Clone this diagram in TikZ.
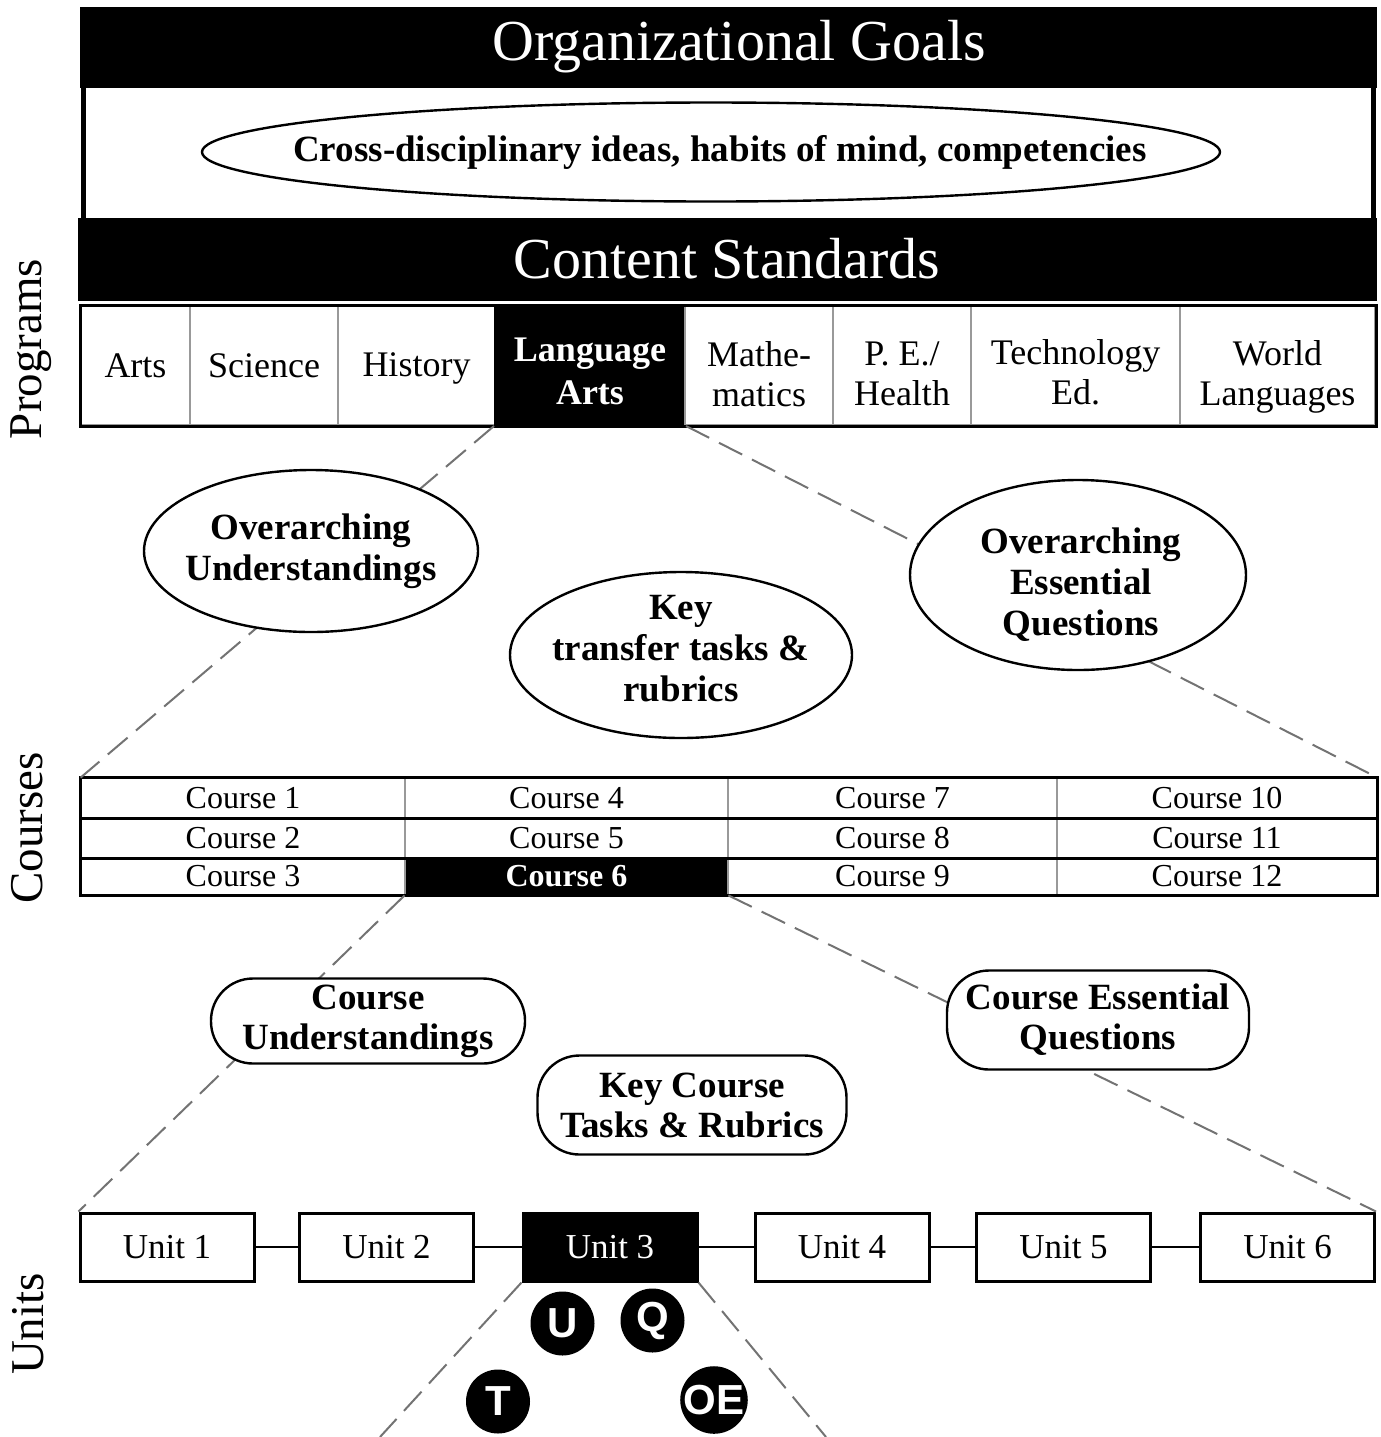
\documentclass[tikz,border=0pt]{standalone}
\usepackage{fontspec}
\setmainfont{Liberation Serif}
\newfontfamily\badgefont{Liberation Sans}
\usetikzlibrary{shapes.geometric}

\tikzset{
  bar/.style={draw, fill=black, text=white, inner sep=0pt, font=\fontsize{29}{34}\selectfont},
  prog/.style={draw=black!40, line width=1pt, inner sep=0pt, minimum height=59.5pt},
  progtext/.style={inner sep=0pt, align=center, font=\fontsize{18}{20}\selectfont},
  progpick/.style={draw=black, fill=black},
  progpicktext/.style={text=white, font=\fontsize{18}{21.5}\selectfont\bfseries},
  course/.style={inner sep=0pt, font=\fontsize{16}{18}\selectfont},
  coursepick/.style={fill=black, text=white, font=\fontsize{16}{18}\selectfont\bfseries},
  unit/.style={draw, line width=1.5pt, inner sep=0pt, minimum width=87pt, minimum height=34pt, font=\fontsize{17.5}{20}\selectfont},
  unitpick/.style={fill=black, text=white},
  thiscell/.style={},
  thistext/.style={},
  idea/.style={ellipse, draw, line width=1.2pt, fill=white, inner sep=0pt},
  ideatext/.style={align=center, inner sep=0pt, font=\fontsize{18.5}{20.5}\selectfont\bfseries},
  card/.style={rectangle, rounded corners=21pt, draw, line width=1.2pt, fill=white, inner sep=0pt, align=center, font=\fontsize{18.5}{20}\selectfont\bfseries},
  zoomline/.style={black!55, line width=1pt, dash pattern=on 13pt off 5.5pt},
  badge/.style={circle, fill=black, text=white, inner sep=0pt, minimum size=32pt, font=\badgefont\bfseries\fontsize{21}{21}\selectfont},
  level/.style={rotate=90, inner sep=0pt, font=\fontsize{23.5}{26}\selectfont}
}

\begin{document}
\begin{tikzpicture}[x=0.5pt, y=-0.5pt]
    \useasboundingbox (0,0) rectangle (1381,1437);

    % goals and standards
    \node[bar, minimum width=648pt, minimum height=40pt] (goals) at (728,47) {\hspace*{11pt}Organizational Goals};
    \draw[line width=2.5pt] (83.5,87) -- (83.5,218);
    \draw[line width=2.5pt] (1373.5,87) -- (1373.5,218);
    \node[bar, minimum width=649pt, minimum height=41pt] (standards) at (727,259) {Content Standards};
    \node[idea, minimum width=509pt, minimum height=49.5pt] (crossidea) at (711,152) {};
    \node[ideatext] (crosstext) at ([xshift=4.5pt]crossidea.center) {Cross-disciplinary ideas, habits of mind, competencies};

    % level labels
    \node[level] (programs) at (31,349) {Programs};
    \node[level] (courses) at (27,828) {Courses};
    \node[level] (units) at (28,1324) {Units};

    % programs
    \foreach \xa/\xb/\cell/\pick/\dy/\txt in {81/190/arts/0/0/Arts, 190/338/science/0/0/Science, 338/495/history/0/-1.5/History,
        495/685/langarts/1/-2.75/{Language\\Arts}, 685/833/math/0/-4.5/{Mathe-\\matics}, 833/971/pe/0/-4.25/{P. E./\\Health},
        971/1180/tech/0/-3.25/{Technology\\Ed.}, 1180/1375/world/0/-5.75/{World\\Languages}}{
        \ifnum\pick=1 \tikzset{thiscell/.style=progpick, thistext/.style=progpicktext}\fi
        \node[prog, thiscell, minimum width={(\xb-\xa)*0.5pt}] (\cell) at ({(\xa+\xb)/2},365.5) {};
        \node[progtext, thistext] (\cell text) at ([yshift=\dy pt]\cell.center) {\txt};
    }
    \draw[line width=1.5pt] (arts.north west) rectangle (world.south east);

    % courses
    \foreach \col/\xa/\xb in {0/81/405, 1/405/728, 2/728/1057, 3/1057/1377}
        \foreach \row/\ya/\yb in {1/778/818, 2/818/858, 3/858/895}{
            \pgfmathtruncatemacro{\num}{3*\col+\row}
            \ifnum\num=6 \tikzset{thiscell/.style=coursepick}\fi
            \node[course, thiscell, minimum width={(\xb-\xa)*0.5pt}, minimum height={(\yb-\ya)*0.5pt}]
                (c\num) at ({(\xa+\xb)/2},{(\ya+\yb)/2}) {Course \num};
        }
    \foreach \a/\b in {1/3, 4/6, 7/9}
        \draw[black!40, line width=1pt] (c\a.north east) -- (c\b.south east);
    \draw[line width=1.3pt] (c1.south west) -- (c10.south east);
    \draw[line width=1.3pt] (c2.south west) -- (c11.south east);
    \draw[line width=1.5pt] (c1.north west) rectangle (c12.south east);

    % units
    \foreach \i/\ux in {1/167, 2/386.5, 3/610, 4/842, 5/1063.5, 6/1287.5}{
        \ifnum\i=3 \tikzset{thiscell/.style=unitpick}\fi
        \node[unit, thiscell] (u\i) at (\ux,1247) {Unit \i};
    }
    \foreach \a/\b in {1/2, 2/3, 3/4, 4/5, 5/6}
        \draw[line width=1.2pt] (u\a) -- (u\b);

    % zoom lines
    \coordinate (lowleft) at (380,1437);
    \coordinate (lowright) at (826,1437);
    \draw[zoomline] (langarts.south west) -- (c1.north west);
    \draw[zoomline] (langarts.south east) -- (c10.north east);
    \draw[zoomline] (c6.south west) -- (u1.north west);
    \draw[zoomline] (c6.south east) -- (u6.north east);
    \draw[zoomline] (u3.south west) -- (lowleft);
    \draw[zoomline] (u3.south east) -- (lowright);

    % program level
    \node[idea, minimum width=167pt, minimum height=81pt] (overund) at (311,551) {};
    \node[ideatext] (overundtext) at (overund) {Overarching\\Understandings};
    \node[idea, minimum width=171pt, minimum height=83pt] (keytransfer) at (681,655) {};
    \node[ideatext] (keytransfertext) at ([yshift=3pt]keytransfer.center) {Key\\transfer tasks \&\\rubrics};
    \node[idea, minimum width=168pt, minimum height=95pt] (overeq) at (1078,575) {};
    \node[ideatext] (overeqtext) at ([xshift=1.5pt, yshift=-5pt]overeq.center) {Overarching\\Essential\\Questions};

    % course level
    \node[card, minimum width=157pt, minimum height=42.5pt] (courseund) at (368,1021) {Course\\Understandings};
    \node[card, minimum width=154.5pt, minimum height=49.5pt] (coursetasks) at (692,1105) {Key Course\\Tasks \& Rubrics};
    \node[card, minimum width=151pt, minimum height=49.5pt] (courseeq) at (1098,1020) {Course Essential\\Questions};

    % unit level
    \node[badge] (badgeU) at (562.5,1323.5) {U};
    \node[badge] (badgeQ) at (652.5,1320.5) {Q};
    \node[badge] (badgeT) at (498,1401.5) {T};
    \node[badge] (badgeOE) at (714,1400) {OE};
\end{tikzpicture}
\end{document}
